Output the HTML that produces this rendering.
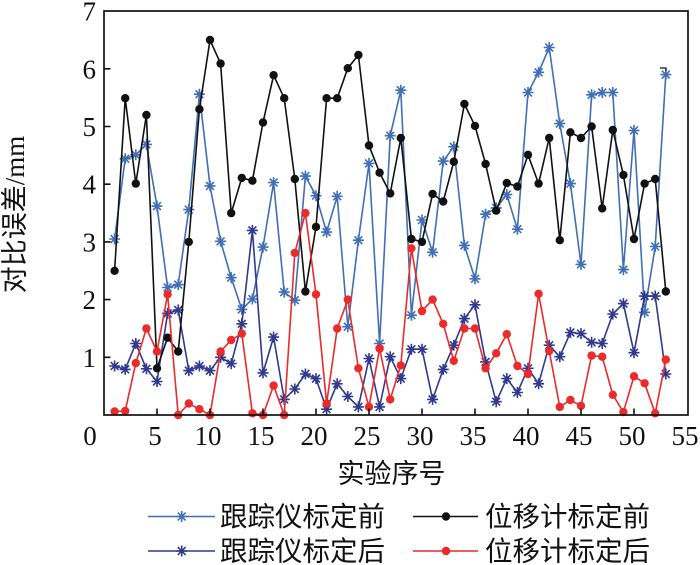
<!DOCTYPE html>
<html><head><meta charset="utf-8"><style>
html,body{margin:0;padding:0;background:#fff;}
svg{display:block;}
.tk{font-family:"Liberation Serif",serif;font-size:27px;fill:#111;}
.cj{font-family:"Liberation Serif","Noto Sans CJK SC",sans-serif;font-size:27.5px;fill:#111;}
</style></head><body>
<svg width="700" height="565" viewBox="0 0 700 565" xmlns="http://www.w3.org/2000/svg">
<defs>
<path id="st" d="M-5.5 0H5.5M0 -5.5V5.5M-3.9 -3.9L3.9 3.9M-3.9 3.9L3.9 -3.9"/>
</defs>
<rect x="0" y="0" width="700" height="565" fill="#fff"/>

<!-- light blue: 跟踪仪标定前 -->
<g stroke="#3f6fb4" stroke-width="1.6" fill="none">
<polyline points="114.6,239.0 125.2,158.8 135.8,154.8 146.4,144.4 157,206.1 167.6,287.5 178.2,284.6 188.8,209.6 199.4,94.2 210,185.9 220.6,241.3 231.2,277.7 241.8,309.4 252.4,299.0 263,247.1 273.6,182.5 284.2,292.1 294.8,300.2 305.4,176.1 316,195.7 326.6,232.1 337.2,196.3 347.8,326.7 358.4,240.2 369,163.4 379.6,343.5 390.2,135.7 400.8,90.2 411.4,315.2 422,220.0 432.6,252.3 443.2,161.1 453.8,146.7 464.4,245.4 475,278.8 485.6,214.2 496.2,207.9 506.8,194.6 517.4,229.2 528,92.5 538.6,72.3 549.2,47.5 559.8,123.6 570.4,183.6 581,264.4 591.6,94.8 602.2,92.5 612.8,92.5 623.4,269.6 634,130.5 644.6,312.3 655.2,246.5 665.8,74.6"/>
<use href="#st" x="114.6" y="239.0"/><use href="#st" x="125.2" y="158.8"/><use href="#st" x="135.8" y="154.8"/><use href="#st" x="146.4" y="144.4"/><use href="#st" x="157" y="206.1"/><use href="#st" x="167.6" y="287.5"/><use href="#st" x="178.2" y="284.6"/><use href="#st" x="188.8" y="209.6"/><use href="#st" x="199.4" y="94.2"/><use href="#st" x="210" y="185.9"/><use href="#st" x="220.6" y="241.3"/><use href="#st" x="231.2" y="277.7"/><use href="#st" x="241.8" y="309.4"/><use href="#st" x="252.4" y="299.0"/><use href="#st" x="263" y="247.1"/><use href="#st" x="273.6" y="182.5"/><use href="#st" x="284.2" y="292.1"/><use href="#st" x="294.8" y="300.2"/><use href="#st" x="305.4" y="176.1"/><use href="#st" x="316" y="195.7"/><use href="#st" x="326.6" y="232.1"/><use href="#st" x="337.2" y="196.3"/><use href="#st" x="347.8" y="326.7"/><use href="#st" x="358.4" y="240.2"/><use href="#st" x="369" y="163.4"/><use href="#st" x="379.6" y="343.5"/><use href="#st" x="390.2" y="135.7"/><use href="#st" x="400.8" y="90.2"/><use href="#st" x="411.4" y="315.2"/><use href="#st" x="422" y="220.0"/><use href="#st" x="432.6" y="252.3"/><use href="#st" x="443.2" y="161.1"/><use href="#st" x="453.8" y="146.7"/><use href="#st" x="464.4" y="245.4"/><use href="#st" x="475" y="278.8"/><use href="#st" x="485.6" y="214.2"/><use href="#st" x="496.2" y="207.9"/><use href="#st" x="506.8" y="194.6"/><use href="#st" x="517.4" y="229.2"/><use href="#st" x="528" y="92.5"/><use href="#st" x="538.6" y="72.3"/><use href="#st" x="549.2" y="47.5"/><use href="#st" x="559.8" y="123.6"/><use href="#st" x="570.4" y="183.6"/><use href="#st" x="581" y="264.4"/><use href="#st" x="591.6" y="94.8"/><use href="#st" x="602.2" y="92.5"/><use href="#st" x="612.8" y="92.5"/><use href="#st" x="623.4" y="269.6"/><use href="#st" x="634" y="130.5"/><use href="#st" x="644.6" y="312.3"/><use href="#st" x="655.2" y="246.5"/><use href="#st" x="665.8" y="74.6"/>
</g>

<!-- dark blue: 跟踪仪标定后 -->
<g stroke="#2f3a8e" stroke-width="1.6" fill="none">
<polyline points="114.6,366.0 125.2,369.4 135.8,343.5 146.4,368.8 157,381.5 167.6,313.4 178.2,310.0 188.8,370.6 199.4,366.0 210,370.6 220.6,357.3 231.2,363.6 241.8,323.8 252.4,230.4 263,372.9 273.6,337.1 284.2,399.4 294.8,389.0 305.4,374.0 316,378.6 326.6,409.2 337.2,383.8 347.8,396.5 358.4,406.9 369,358.5 379.6,406.9 390.2,356.7 400.8,378.6 411.4,349.2 422,349.2 432.6,399.4 443.2,369.4 453.8,345.2 464.4,318.6 475,304.8 485.6,361.9 496.2,401.7 506.8,378.6 517.4,392.5 528,368.3 538.6,383.8 549.2,345.2 559.8,356.7 570.4,332.5 581,333.6 591.6,342.3 602.2,343.5 612.8,314.0 623.4,303.6 634,352.7 644.6,296.1 655.2,296.1 665.8,374.0"/>
<use href="#st" x="114.6" y="366.0"/><use href="#st" x="125.2" y="369.4"/><use href="#st" x="135.8" y="343.5"/><use href="#st" x="146.4" y="368.8"/><use href="#st" x="157" y="381.5"/><use href="#st" x="167.6" y="313.4"/><use href="#st" x="178.2" y="310.0"/><use href="#st" x="188.8" y="370.6"/><use href="#st" x="199.4" y="366.0"/><use href="#st" x="210" y="370.6"/><use href="#st" x="220.6" y="357.3"/><use href="#st" x="231.2" y="363.6"/><use href="#st" x="241.8" y="323.8"/><use href="#st" x="252.4" y="230.4"/><use href="#st" x="263" y="372.9"/><use href="#st" x="273.6" y="337.1"/><use href="#st" x="284.2" y="399.4"/><use href="#st" x="294.8" y="389.0"/><use href="#st" x="305.4" y="374.0"/><use href="#st" x="316" y="378.6"/><use href="#st" x="326.6" y="409.2"/><use href="#st" x="337.2" y="383.8"/><use href="#st" x="347.8" y="396.5"/><use href="#st" x="358.4" y="406.9"/><use href="#st" x="369" y="358.5"/><use href="#st" x="379.6" y="406.9"/><use href="#st" x="390.2" y="356.7"/><use href="#st" x="400.8" y="378.6"/><use href="#st" x="411.4" y="349.2"/><use href="#st" x="422" y="349.2"/><use href="#st" x="432.6" y="399.4"/><use href="#st" x="443.2" y="369.4"/><use href="#st" x="453.8" y="345.2"/><use href="#st" x="464.4" y="318.6"/><use href="#st" x="475" y="304.8"/><use href="#st" x="485.6" y="361.9"/><use href="#st" x="496.2" y="401.7"/><use href="#st" x="506.8" y="378.6"/><use href="#st" x="517.4" y="392.5"/><use href="#st" x="528" y="368.3"/><use href="#st" x="538.6" y="383.8"/><use href="#st" x="549.2" y="345.2"/><use href="#st" x="559.8" y="356.7"/><use href="#st" x="570.4" y="332.5"/><use href="#st" x="581" y="333.6"/><use href="#st" x="591.6" y="342.3"/><use href="#st" x="602.2" y="343.5"/><use href="#st" x="612.8" y="314.0"/><use href="#st" x="623.4" y="303.6"/><use href="#st" x="634" y="352.7"/><use href="#st" x="644.6" y="296.1"/><use href="#st" x="655.2" y="296.1"/><use href="#st" x="665.8" y="374.0"/>
</g>

<!-- black: 位移计标定前 -->
<g stroke="#111" stroke-width="1.6" fill="none">
<polyline points="114.6,270.8 125.2,98.2 135.8,183.6 146.4,115.0 157,368.3 167.6,337.7 178.2,351.5 188.8,241.9 199.4,109.2 210,40.0 220.6,63.6 231.2,213.1 241.8,177.9 252.4,180.7 263,122.5 273.6,75.2 284.2,98.2 294.8,179.0 305.4,291.5 316,226.9 326.6,98.2 337.2,98.2 347.8,68.2 358.4,55.0 369,145.5 379.6,172.7 390.2,193.4 400.8,138.0 411.4,239.0 422,241.9 432.6,194.0 443.2,201.5 453.8,161.7 464.4,104.0 475,125.9 485.6,164.0 496.2,210.7 506.8,183.0 517.4,186.5 528,154.8 538.6,183.6 549.2,138.0 559.8,240.2 570.4,132.3 581,138.0 591.6,126.5 602.2,208.4 612.8,130.0 623.4,175.0 634,239.0 644.6,183.6 655.2,179.0 665.8,291.5"/>
</g>
<g fill="#111">
<circle cx="114.6" cy="270.8" r="4.2"/><circle cx="125.2" cy="98.2" r="4.2"/><circle cx="135.8" cy="183.6" r="4.2"/><circle cx="146.4" cy="115.0" r="4.2"/><circle cx="157" cy="368.3" r="4.2"/><circle cx="167.6" cy="337.7" r="4.2"/><circle cx="178.2" cy="351.5" r="4.2"/><circle cx="188.8" cy="241.9" r="4.2"/><circle cx="199.4" cy="109.2" r="4.2"/><circle cx="210" cy="40.0" r="4.2"/><circle cx="220.6" cy="63.6" r="4.2"/><circle cx="231.2" cy="213.1" r="4.2"/><circle cx="241.8" cy="177.9" r="4.2"/><circle cx="252.4" cy="180.7" r="4.2"/><circle cx="263" cy="122.5" r="4.2"/><circle cx="273.6" cy="75.2" r="4.2"/><circle cx="284.2" cy="98.2" r="4.2"/><circle cx="294.8" cy="179.0" r="4.2"/><circle cx="305.4" cy="291.5" r="4.2"/><circle cx="316" cy="226.9" r="4.2"/><circle cx="326.6" cy="98.2" r="4.2"/><circle cx="337.2" cy="98.2" r="4.2"/><circle cx="347.8" cy="68.2" r="4.2"/><circle cx="358.4" cy="55.0" r="4.2"/><circle cx="369" cy="145.5" r="4.2"/><circle cx="379.6" cy="172.7" r="4.2"/><circle cx="390.2" cy="193.4" r="4.2"/><circle cx="400.8" cy="138.0" r="4.2"/><circle cx="411.4" cy="239.0" r="4.2"/><circle cx="422" cy="241.9" r="4.2"/><circle cx="432.6" cy="194.0" r="4.2"/><circle cx="443.2" cy="201.5" r="4.2"/><circle cx="453.8" cy="161.7" r="4.2"/><circle cx="464.4" cy="104.0" r="4.2"/><circle cx="475" cy="125.9" r="4.2"/><circle cx="485.6" cy="164.0" r="4.2"/><circle cx="496.2" cy="210.7" r="4.2"/><circle cx="506.8" cy="183.0" r="4.2"/><circle cx="517.4" cy="186.5" r="4.2"/><circle cx="528" cy="154.8" r="4.2"/><circle cx="538.6" cy="183.6" r="4.2"/><circle cx="549.2" cy="138.0" r="4.2"/><circle cx="559.8" cy="240.2" r="4.2"/><circle cx="570.4" cy="132.3" r="4.2"/><circle cx="581" cy="138.0" r="4.2"/><circle cx="591.6" cy="126.5" r="4.2"/><circle cx="602.2" cy="208.4" r="4.2"/><circle cx="612.8" cy="130.0" r="4.2"/><circle cx="623.4" cy="175.0" r="4.2"/><circle cx="634" cy="239.0" r="4.2"/><circle cx="644.6" cy="183.6" r="4.2"/><circle cx="655.2" cy="179.0" r="4.2"/><circle cx="665.8" cy="291.5" r="4.2"/>
</g>

<!-- red: 位移计标定后 -->
<g stroke="#ec2a2a" stroke-width="1.6" fill="none">
<polyline points="114.6,411.5 125.2,411.0 135.8,363.1 146.4,328.5 157,351.5 167.6,294.4 178.2,415 188.8,403.5 199.4,409.2 210,415 220.6,351.5 231.2,340.0 241.8,333.6 252.4,413.3 263,415 273.6,385.6 284.2,415 294.8,252.9 305.4,213.1 316,294.4 326.6,403.5 337.2,328.5 347.8,299.6 358.4,368.3 369,406.9 379.6,348.6 390.2,399.4 400.8,365.4 411.4,248.3 422,311.1 432.6,299.6 443.2,323.8 453.8,360.8 464.4,328.5 475,328.5 485.6,368.3 496.2,353.3 506.8,334.2 517.4,366.0 528,374.0 538.6,293.8 549.2,351.0 559.8,406.9 570.4,400.0 581,405.8 591.6,355.6 602.2,356.7 612.8,394.8 623.4,412.1 634,376.3 644.6,383.3 655.2,413.3 665.8,359.6"/>
</g>
<g fill="#ec2a2a">
<circle cx="114.6" cy="411.5" r="4.2"/><circle cx="125.2" cy="411.0" r="4.2"/><circle cx="135.8" cy="363.1" r="4.2"/><circle cx="146.4" cy="328.5" r="4.2"/><circle cx="157" cy="351.5" r="4.2"/><circle cx="167.6" cy="294.4" r="4.2"/><circle cx="178.2" cy="415" r="4.2"/><circle cx="188.8" cy="403.5" r="4.2"/><circle cx="199.4" cy="409.2" r="4.2"/><circle cx="210" cy="415" r="4.2"/><circle cx="220.6" cy="351.5" r="4.2"/><circle cx="231.2" cy="340.0" r="4.2"/><circle cx="241.8" cy="333.6" r="4.2"/><circle cx="252.4" cy="413.3" r="4.2"/><circle cx="263" cy="415" r="4.2"/><circle cx="273.6" cy="385.6" r="4.2"/><circle cx="284.2" cy="415" r="4.2"/><circle cx="294.8" cy="252.9" r="4.2"/><circle cx="305.4" cy="213.1" r="4.2"/><circle cx="316" cy="294.4" r="4.2"/><circle cx="326.6" cy="403.5" r="4.2"/><circle cx="337.2" cy="328.5" r="4.2"/><circle cx="347.8" cy="299.6" r="4.2"/><circle cx="358.4" cy="368.3" r="4.2"/><circle cx="369" cy="406.9" r="4.2"/><circle cx="379.6" cy="348.6" r="4.2"/><circle cx="390.2" cy="399.4" r="4.2"/><circle cx="400.8" cy="365.4" r="4.2"/><circle cx="411.4" cy="248.3" r="4.2"/><circle cx="422" cy="311.1" r="4.2"/><circle cx="432.6" cy="299.6" r="4.2"/><circle cx="443.2" cy="323.8" r="4.2"/><circle cx="453.8" cy="360.8" r="4.2"/><circle cx="464.4" cy="328.5" r="4.2"/><circle cx="475" cy="328.5" r="4.2"/><circle cx="485.6" cy="368.3" r="4.2"/><circle cx="496.2" cy="353.3" r="4.2"/><circle cx="506.8" cy="334.2" r="4.2"/><circle cx="517.4" cy="366.0" r="4.2"/><circle cx="528" cy="374.0" r="4.2"/><circle cx="538.6" cy="293.8" r="4.2"/><circle cx="549.2" cy="351.0" r="4.2"/><circle cx="559.8" cy="406.9" r="4.2"/><circle cx="570.4" cy="400.0" r="4.2"/><circle cx="581" cy="405.8" r="4.2"/><circle cx="591.6" cy="355.6" r="4.2"/><circle cx="602.2" cy="356.7" r="4.2"/><circle cx="612.8" cy="394.8" r="4.2"/><circle cx="623.4" cy="412.1" r="4.2"/><circle cx="634" cy="376.3" r="4.2"/><circle cx="644.6" cy="383.3" r="4.2"/><circle cx="655.2" cy="413.3" r="4.2"/><circle cx="665.8" cy="359.6" r="4.2"/>
</g>

<!-- small artifact near top right -->
<path d="M660 68H666V71" stroke="#111" stroke-width="1.2" fill="none"/>

<!-- axes box and ticks -->
<rect x="104" y="11" width="584" height="404" fill="none" stroke="#111" stroke-width="1.7"/>
<g stroke="#111" stroke-width="1.6">
<path d="M157 415V408.5M210 415V408.5M263 415V408.5M316 415V408.5M369 415V408.5M422 415V408.5M475 415V408.5M528 415V408.5M581 415V408.5M634 415V408.5"/>
<path d="M104 357.3H110.5M104 299.6H110.5M104 241.9H110.5M104 184.2H110.5M104 126.5H110.5M104 68.8H110.5"/>
</g>

<!-- y tick labels -->
<g class="tk" text-anchor="end">
<text x="96" y="366.8">1</text>
<text x="96" y="309.1">2</text>
<text x="96" y="251.4">3</text>
<text x="96" y="193.7">4</text>
<text x="96" y="136.0">5</text>
<text x="96" y="78.3">6</text>
<text x="96" y="20.6">7</text>
</g>
<!-- x tick labels -->
<g class="tk" text-anchor="middle">
<text x="90" y="445">0</text>
<text x="155" y="445">5</text>
<text x="208" y="445">10</text>
<text x="261" y="445">15</text>
<text x="314" y="445">20</text>
<text x="367" y="445">25</text>
<text x="420" y="445">30</text>
<text x="473" y="445">35</text>
<text x="526" y="445">40</text>
<text x="579" y="445">45</text>
<text x="632" y="445">50</text>
<text x="685" y="445">55</text>
</g>

<!-- axis titles -->
<text class="cj" x="391.5" y="474" text-anchor="middle" dominant-baseline="central" style="font-size:27px">实验序号</text>
<text class="cj" transform="translate(15,214.5) rotate(-90)" x="0" y="0" text-anchor="middle" dominant-baseline="central" style="font-size:27px">对比误差/mm</text>

<!-- legend -->
<g stroke-width="1.6" fill="none">
<path d="M148 516.5H215" stroke="#3f6fb4"/>
<use href="#st" x="181.7" y="516.5" stroke="#3f6fb4"/>
<path d="M148 551H215" stroke="#2f3a8e"/>
<use href="#st" x="181.7" y="551" stroke="#2f3a8e"/>
<path d="M413 516.5H478" stroke="#111"/>
<path d="M413 551H478" stroke="#ec2a2a"/>
</g>
<circle cx="446" cy="516.5" r="4.2" fill="#111"/>
<circle cx="446" cy="551" r="4.2" fill="#ec2a2a"/>
<text class="cj" x="220" y="516.5" dominant-baseline="central">跟踪仪标定前</text>
<text class="cj" x="220" y="551" dominant-baseline="central">跟踪仪标定后</text>
<text class="cj" x="485" y="516.5" dominant-baseline="central">位移计标定前</text>
<text class="cj" x="485" y="551" dominant-baseline="central">位移计标定后</text>
</svg>
</body></html>
